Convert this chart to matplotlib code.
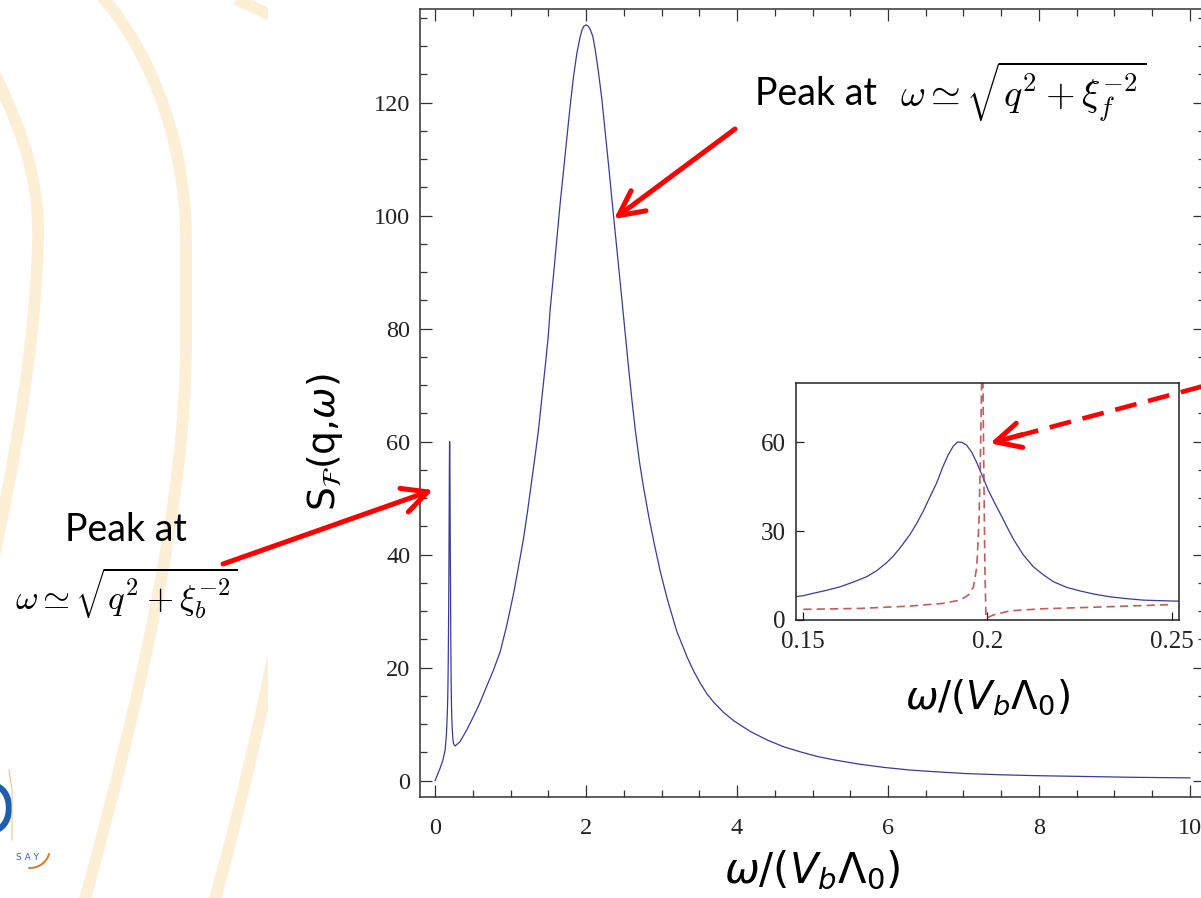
import matplotlib
matplotlib.use("Agg")
import matplotlib.pyplot as plt
from matplotlib.path import Path
from matplotlib.patches import PathPatch, Rectangle, Arc
from matplotlib.ticker import FixedLocator, MultipleLocator

# ---- data -------------------------------------------------------------
# S_F(q, omega) over the full frequency range (omega in units of V_b*Lambda_0)
omega_main = [
    0.0, 0.066, 0.10, 0.133,
    # narrow peak near omega ~ 0.19
    0.150, 0.1527, 0.1563, 0.160, 0.1636, 0.1672, 0.1699, 0.1726, 0.1744, 0.1762,
    0.1790, 0.1808, 0.1826, 0.1845, 0.1862, 0.1878, 0.1893, 0.1907, 0.1919, 0.1930,
    0.1943, 0.1957, 0.1971, 0.1986, 0.2002, 0.2018, 0.2034, 0.2052, 0.2070, 0.2097,
    0.2124, 0.2152, 0.2179, 0.2215, 0.2251, 0.2287, 0.2333, 0.2378, 0.2423, 0.250,
    # rise towards the broad peak at omega ~ 2
    0.265, 0.33, 0.42, 0.51, 0.597, 0.686, 0.774, 0.862, 0.95, 1.038,
    1.10, 1.171, 1.226, 1.281, 1.326, 1.370, 1.415, 1.459, 1.50, 1.525,
    1.569, 1.614, 1.658, 1.702, 1.746, 1.790, 1.834, 1.879, 1.921, 1.946,
    1.970, 2.0,
    # decay and tail
    2.03, 2.056, 2.09, 2.122, 2.166, 2.21, 2.255, 2.30, 2.343, 2.387,
    2.431, 2.475, 2.53, 2.564, 2.608, 2.652, 2.71, 2.763, 2.83, 2.896,
    2.98, 3.073, 3.2, 3.338, 3.425, 3.515, 3.60, 3.69, 3.82, 3.957,
    4.178, 4.40, 4.62, 4.84, 5.06, 5.28, 5.61, 5.95, 6.28, 6.61,
    7.05, 7.49, 7.94, 8.38, 8.82, 9.26, 9.63, 10.0,
]
s_main = [
    0.0, 2.2, 3.5, 5.4,
    8.2, 9.0, 10.0, 11.2, 12.8, 14.6, 16.6, 19.3, 21.5, 24.2,
    28.9, 32.6, 36.8, 41.8, 46.2, 51.4, 55.6, 58.6, 60.0, 59.9,
    59.0, 56.6, 53.0, 48.6, 43.8, 39.8, 36.0, 31.6, 27.3, 22.0,
    18.0, 15.2, 12.9, 11.0, 9.8, 8.8, 7.8, 7.2, 6.7, 6.4,
    6.15, 6.9, 9.0, 11.4, 13.9, 16.8, 19.6, 22.8, 27.5, 33.0,
    37.5, 42.8, 47.8, 53.2, 57.6, 62.1, 67.8, 73.3, 78.8, 83.5,
    89.5, 96.0, 102.3, 108.0, 113.8, 119.5, 124.6, 128.8, 131.6, 132.8,
    133.5, 133.75,
    133.5, 132.9, 131.7, 129.3, 125.2, 120.5, 114.6, 108.7, 102.8, 96.9,
    91.0, 85.1, 77.6, 73.0, 67.3, 62.1, 56.2, 51.8, 46.8, 42.4,
    37.2, 32.3, 26.5, 21.9, 19.4, 17.2, 15.4, 13.9, 12.1, 10.6,
    8.7, 7.2, 6.0, 5.1, 4.3, 3.7, 2.95, 2.35, 1.9, 1.6,
    1.25, 1.05, 0.9, 0.8, 0.7, 0.6, 0.55, 0.5,
]

# second (dashed) curve near the small peak
omega_dash = [0.150, 0.1654, 0.1790, 0.1880, 0.1925, 0.1948, 0.1962, 0.1971,
              0.1977, 0.1981, 0.1985, 0.1987, 0.1990, 0.1993, 0.1996, 0.2016,
              0.2061, 0.2152, 0.2287, 0.250]
s_dash = [3.6, 3.9, 4.7, 5.6, 6.7, 8.4, 11.2, 18.0,
          33.7, 56.2, 88.0, 88.0, 50.6, 16.9, 0.6, 1.7,
          3.1, 3.8, 4.3, 5.2]

main_xticks = [0, 2, 4, 6, 8, 10]
main_yticks = [0, 20, 40, 60, 80, 100, 120]
inset_xticks = [0.15, 0.2, 0.25]
inset_xlabels = ["0.15", "0.2", "0.25"]
inset_yticks = [0, 30, 60]

# ---- figure -----------------------------------------------------------
W, H = 1201, 898
fig = plt.figure(figsize=(W / 100, H / 100), dpi=100)
fig.patch.set_facecolor("white")


def fx(px):
    return px / W


def fy(py):
    return 1 - py / H


BLUE = "#3a3a9c"
BAND = "#fcefd6"
TICK_FONT = "Liberation Serif"

# background layer (pixel coordinates)
bg = fig.add_axes([0, 0, 1, 1], zorder=0)
bg.set_xlim(0, W)
bg.set_ylim(H, 0)
bg.axis("off")


def band(verts, codes):
    bg.add_patch(PathPatch(Path(verts, codes), facecolor="none", edgecolor=BAND,
                           lw=8.5, capstyle="butt", joinstyle="round", zorder=1))


M, C, L = Path.MOVETO, Path.CURVE4, Path.LINETO
band([(-12, 60), (15, 115), (40, 170), (38, 240),
      (36, 330), (20, 440), (-10, 575)],
     [M, C, C, C, C, C, C])
band([(96, -10), (142, 38), (186, 130), (186, 240),
      (186, 344),
      (186, 500), (140, 700), (82, 910)],
     [M, C, C, C, L, C, C, C])
band([(212, -12), (290, 24)], [M, L])
band([(292, 560), (276, 650), (246, 790), (212, 910)], [M, C, C, C])

# white backdrop of the plot area
bg.add_patch(Rectangle((268, -5), W, H + 10, facecolor="white", edgecolor="none", zorder=2))

# institutional logo fragment in the lower-left corner
bg.add_patch(Arc((-6, 808), 30, 44, theta1=-80, theta2=80, color="#1d5fae", lw=4.5, zorder=3))
bg.plot([9, 12, 12], [770, 790, 840], color="#efc48c", lw=0.8, zorder=3)
bg.text(28, 857, "S A Y", fontsize=6.5, color="#2f69b0", ha="center", va="center",
        family="DejaVu Sans", zorder=3)
bg.add_patch(Arc((30, 848), 40, 40, theta1=15, theta2=95, color="#e0772a", lw=1.4, zorder=3))

# annotation texts
fig.text(fx(755), fy(105), "Peak at", fontsize=27, family="Lato", ha="left",
         va="baseline", zorder=4)
fig.text(fx(900), fy(107), r"$\omega \simeq \sqrt{q^2+\xi_f^{-2}}$", fontsize=27.5,
         math_fontfamily="cm", ha="left", va="baseline", zorder=4)
fig.text(fx(65), fy(541), "Peak at", fontsize=27, family="Lato", ha="left",
         va="baseline", zorder=4)
fig.text(fx(15), fy(610), r"$\omega \simeq \sqrt{q^2+\xi_b^{-2}}$", fontsize=25,
         math_fontfamily="cm", ha="left", va="baseline", zorder=4)

# ---- main panel -------------------------------------------------------
ax = fig.add_axes([fx(420), fy(796.7), 785 / W, 787.4 / H], zorder=1)
ax.set_facecolor("white")
ax.plot(omega_main, s_main, color=BLUE, lw=0.9)
ax.set_xlim(-0.2, 10.2)
ax.set_ylim(-2.83, 136.5)
ax.xaxis.set_major_locator(FixedLocator(main_xticks))
ax.yaxis.set_major_locator(FixedLocator(main_yticks))
ax.xaxis.set_minor_locator(MultipleLocator(0.5))
ax.yaxis.set_minor_locator(MultipleLocator(5))
ax.tick_params(which="both", direction="in", top=True, right=True,
               color="#333333", width=0.9, labelcolor="#222222")
ax.tick_params(which="major", length=8.6, labelsize=17.5)
ax.tick_params(which="minor", length=5)
ax.tick_params(axis="x", pad=15)
ax.tick_params(axis="y", pad=7)
for lab in ax.get_xticklabels() + ax.get_yticklabels():
    lab.set_family(TICK_FONT)
for sp in ax.spines.values():
    sp.set_color("#333333")
    sp.set_linewidth(1.1)

fig.text(fx(325), fy(442), r"$\mathrm{S}_{\mathcal{F}}(\mathrm{q}{,}\omega)$", rotation=90,
         ha="center", va="center", fontsize=27, math_fontfamily="dejavusans", zorder=4)
fig.text(fx(812), fy(871), r"$\omega/(V_b\Lambda_0)$", ha="center", va="center",
         fontsize=30, math_fontfamily="dejavusans", zorder=4)

# ---- inset ------------------------------------------------------------
axi = fig.add_axes([fx(795.7), fy(620), (1179 - 795.7) / W, (620 - 382.7) / H], zorder=2)
axi.set_facecolor("white")
axi.plot(omega_main, s_main, color=BLUE, lw=0.9)
axi.plot(omega_dash, s_dash, color="#b84040", lw=1.2, dashes=(5, 3), alpha=0.85)
axi.set_xlim(0.14794, 0.25198)
axi.set_ylim(0, 80)
axi.xaxis.set_major_locator(FixedLocator(inset_xticks))
axi.set_xticklabels(inset_xlabels)
axi.yaxis.set_major_locator(FixedLocator(inset_yticks))
axi.tick_params(direction="in", length=5.8, width=0.9, color="#222222",
                labelsize=18, labelcolor="#222222", top=False, right=False)
axi.tick_params(axis="x", pad=8)
axi.tick_params(axis="y", pad=7)
for lab in axi.get_xticklabels() + axi.get_yticklabels():
    lab.set_family(TICK_FONT)
for sp in axi.spines.values():
    sp.set_color("#222222")
    sp.set_linewidth(1.1)
fig.text(fx(987), fy(697), r"$\omega/(V_b\Lambda_0)$", ha="center", va="center",
         fontsize=28, math_fontfamily="dejavusans", zorder=4)

# ---- arrows (pixel coordinates, drawn on top) -------------------------
ov = fig.add_axes([0, 0, 1, 1], zorder=5)
ov.set_xlim(0, W)
ov.set_ylim(H, 0)
ov.axis("off")
ov.patch.set_alpha(0)

head = dict(arrowstyle="->,head_length=0.9,head_width=0.45", lw=3.6, color="red",
            mutation_scale=20, shrinkA=0, shrinkB=0)
ov.annotate("", xy=(614, 219), xytext=(735, 129), arrowprops=head)
ov.annotate("", xy=(433, 490), xytext=(223, 564), arrowprops=head)
ov.plot([1215, 1010], [383, 438], color="red", lw=3.3, dashes=(4.8, 2.6),
        solid_capstyle="butt")
ov.annotate("", xy=(990, 443.3), xytext=(1022, 434.7), arrowprops=head)

fig.savefig("out.png", dpi=100, facecolor="white")
